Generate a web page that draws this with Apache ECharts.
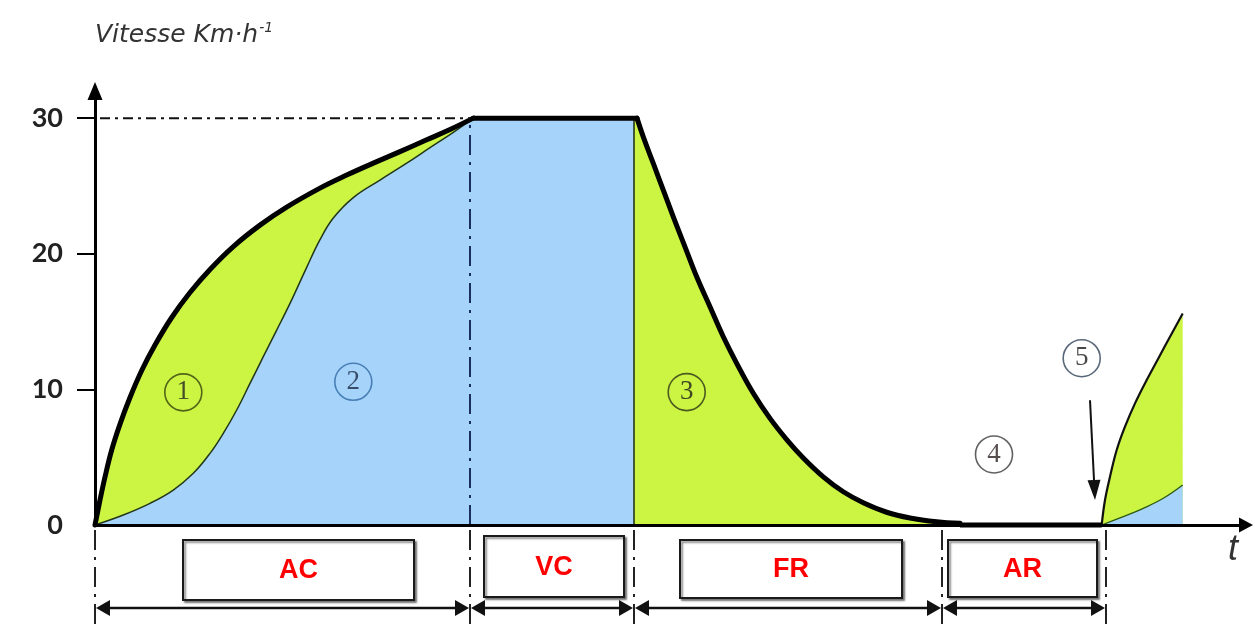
<!DOCTYPE html>
<html><head><meta charset="utf-8">
<script src="https://cdn.jsdelivr.net/npm/echarts@6/dist/echarts.min.js"></script>
<style>html,body{margin:0;padding:0;background:#fff}#c{width:1255px;height:630px}</style>
</head><body><div id="c"></div>
<script>
// ---------- data ----------
const yTicks = [0, 10, 20, 30];
const vMax = 30;
const phaseLabels = ['AC', 'VC', 'FR', 'AR'];
const phaseBounds = [0, 37.5, 53.9, 84.7, 101.1];
// (1) outer acceleration curve  [t, v]
const accelOuter = [[0,0],[0.5,1.84],[1.0,3.54],[1.67,5.53],[2.5,7.44],[3.5,9.4],[4.67,11.39],[6.0,13.27],[7.67,15.3],[9.5,17.14],[11.5,18.84],[13.83,20.53],[16.5,22.11],[19.17,23.44],[22.5,24.84],[25.17,25.8],[27.83,26.68],[30.5,27.53],[33.17,28.4],[35.5,29.16],[37.83,30]];
// (2) inner acceleration curve
const accelInner = [[0,0],[2.83,0.74],[5.5,1.6],[7.83,2.58],[9.83,3.81],[11.5,5.28],[12.83,6.76],[14.17,8.48],[15.5,10.44],[16.83,12.41],[18.17,14.37],[19.5,16.34],[21.17,19.0],[22.5,21.04],[23.83,22.63],[25.83,24.14],[28.5,25.43],[31.17,26.68],[33.5,27.82],[35.83,28.95],[37.83,30]];
// (3) braking curve
const brake = [[54.2,30],[54.83,28.62],[55.83,26.66],[56.83,24.69],[57.83,22.72],[59.0,20.51],[60.17,18.3],[61.5,16.09],[62.83,13.88],[64.17,11.92],[65.83,9.71],[67.5,7.86],[69.17,6.3],[70.83,4.94],[72.83,3.55],[74.83,2.45],[76.83,1.64],[79.17,0.94],[81.5,0.52],[84.17,0.24],[86.5,0.12]];
// (5) restart curves
const restartOuter = [[100.67,0],[101.0,1.84],[101.5,3.56],[102.17,5.53],[103.0,7.25],[104.0,8.97],[105.17,10.69],[106.33,12.28],[107.5,13.88],[108.77,15.6]];
const restartInner = [[100.67,0],[102.83,0.61],[104.83,1.23],[106.83,1.97],[108.77,2.95]];
// circled markers
const markerLabels = ['1', '2', '3', '4', '5'];
const markerT = [8.83, 25.83, 59.17, 89.9, 98.67];
const markerV = [9.78, 10.56, 9.8, 5.2, 12.3];
const restartArrow = [[99.5, 9.2], [99.95, 2.58]];

// ---------- styles / layout ----------
const GREEN = '#CCF443';
const BLUE = '#A6D3F9';
const markerStyle = [
  {ring: '#34400c', text: '#222'},
  {ring: '#2f6aa6', text: '#1b2a44'},
  {ring: '#2c3316', text: '#1a1a1a'},
  {ring: '#3a3a3a', text: '#2a1f1f'},
  {ring: '#2f4258', text: '#1a1a1a'}
];
const boxLayout = [
  {t0: 8.8, t1: 31.9, top: 15, bottom: 75},
  {t0: 38.9, t1: 52.9, top: 11, bottom: 72},
  {t0: 58.5, t1: 80.7, top: 15, bottom: 73},
  {t0: 85.3, t1: 100.2, top: 15, bottom: 72}
];
const SM = 0.4;

function lineS(data, opt) {
  return Object.assign({
    type: 'line', data: data, symbol: 'none', smooth: SM,
    silent: true, clip: false, animation: false
  }, opt);
}

const chart = echarts.init(document.getElementById('c'), null, {renderer: 'canvas'});
const series = [
  lineS(accelOuter, {z: 1, lineStyle: {width: 0}, areaStyle: {color: GREEN, opacity: 1}}),
  lineS(accelInner, {z: 2, lineStyle: {width: 1.5, color: '#22361a'}, areaStyle: {color: BLUE, opacity: 1}}),
  lineS([[phaseBounds[1], vMax], [phaseBounds[2], vMax]], {z: 2, smooth: false, lineStyle: {width: 0}, areaStyle: {color: BLUE, opacity: 1}}),
  lineS([[phaseBounds[2], vMax]].concat(brake), {z: 1, lineStyle: {width: 0}, areaStyle: {color: GREEN, opacity: 1}}),
  lineS([[phaseBounds[2], 0], [phaseBounds[2], vMax]], {z: 3, smooth: false, lineStyle: {width: 1.5, color: '#1d2b10'}}),
  lineS(restartOuter, {z: 1, lineStyle: {width: 0}, areaStyle: {color: GREEN, opacity: 1}}),
  lineS(restartInner, {z: 2, lineStyle: {width: 1.3, color: '#2c5a10'}, areaStyle: {color: BLUE, opacity: 1}}),
  lineS(restartOuter, {z: 4, lineStyle: {width: 2.2, color: '#111'}}),
  // bold outline
  lineS(accelOuter, {z: 4, lineStyle: {width: 5, color: '#000', cap: 'round', join: 'round'}}),
  lineS([accelOuter[accelOuter.length - 1], brake[0]], {z: 4, smooth: false, lineStyle: {width: 5, color: '#000', cap: 'round'}}),
  lineS(brake, {z: 4, lineStyle: {width: 5, color: '#000', cap: 'round', join: 'round'}}),
  lineS([[brake[brake.length - 1][0], 0], restartOuter[0]], {z: 4, smooth: false, lineStyle: {width: 5, color: '#000'}}),
  // dash-dot guides
  lineS([[0.5, vMax], [phaseBounds[1], vMax]], {z: 5, smooth: false, lineStyle: {width: 2, color: '#111', type: [10, 5, 3, 5]}}),
  lineS([[phaseBounds[1], 0], [phaseBounds[1], vMax]], {z: 5, smooth: false, lineStyle: {width: 2, color: '#1b2f5e', type: [20, 7, 3, 7]}}),
  // circled markers + arrow
  {
    type: 'scatter', silent: true, z: 6, animation: false, symbol: 'circle', symbolSize: 37,
    data: markerT.map((t, i) => ({
      value: [t, markerV[i]],
      itemStyle: {color: 'rgba(0,0,0,0)', borderColor: markerStyle[i].ring, borderWidth: 1.6},
      label: {color: markerStyle[i].text}
    })),
    label: {show: true, position: 'inside', fontFamily: 'Liberation Serif', fontSize: 27,
      formatter: p => markerLabels[p.dataIndex]},
    markLine: {
      silent: true, animation: false, symbol: ['none', 'triangle'], symbolSize: [13, 20],
      lineStyle: {color: '#111', width: 2, type: 'solid'}, label: {show: false},
      data: [[{coord: restartArrow[0]}, {coord: restartArrow[1]}]]
    }
  },
  // vertical dash-dot lines below axis
  {
    type: 'custom', silent: true, clip: false, z: 5, animation: false,
    data: phaseBounds.map(b => [b, 0]),
    renderItem: function (params, api) {
      const p = api.coord([api.value(0), 0]);
      return {type: 'line', shape: {x1: p[0], y1: p[1] + 5, x2: p[0], y2: p[1] + 106},
        style: {stroke: '#222', lineWidth: 2, lineDash: [20, 7, 3, 7]}};
    }
  },
  // phase boxes + double arrows
  {
    type: 'custom', silent: true, clip: false, z: 6, animation: false,
    data: phaseLabels.map((l, i) => [phaseBounds[i], phaseBounds[i + 1]]),
    renderItem: function (params, api) {
      const i = params.dataIndex;
      const L = boxLayout[i];
      const base = api.coord([0, 0])[1];
      const xa = api.coord([api.value(0), 0])[0];
      const xb = api.coord([api.value(1), 0])[0];
      const bx0 = api.coord([L.t0, 0])[0], bx1 = api.coord([L.t1, 0])[0];
      const by0 = base + L.top, by1 = base + L.bottom;
      const ay = base + 83, ah = 15, aw = 8;
      return {type: 'group', children: [
        {type: 'rect', shape: {x: bx0, y: by0, width: bx1 - bx0, height: by1 - by0},
          style: {fill: '#fff', stroke: '#1a1a1a', lineWidth: 2, shadowColor: 'rgba(0,0,0,0.45)', shadowOffsetX: 2, shadowOffsetY: 2, shadowBlur: 2}},
        {type: 'text', style: {text: phaseLabels[i], x: (bx0 + bx1) / 2, y: (by0 + by1) / 2 + 1,
          align: 'center', verticalAlign: 'middle', fill: '#FF0000',
          font: 'bold 27px "Liberation Sans", Arial, sans-serif'}},
        {type: 'line', shape: {x1: xa + ah - 2, y1: ay, x2: xb - ah + 2, y2: ay}, style: {stroke: '#111', lineWidth: 2.5}},
        {type: 'polygon', shape: {points: [[xa + 1, ay], [xa + ah, ay - aw], [xa + ah, ay + aw]]}, style: {fill: '#111'}},
        {type: 'polygon', shape: {points: [[xb - 1, ay], [xb - ah, ay - aw], [xb - ah, ay + aw]]}, style: {fill: '#111'}}
      ]};
    }
  }
];

chart.setOption({
  animation: false,
  backgroundColor: '#fff',
  title: [
    {text: '{a|Vitesse Km·h}{b|-1}', left: 95, top: 21, padding: 0,
      textStyle: {fontWeight: 'normal', rich: {
        a: {fontFamily: 'DejaVu Sans', fontStyle: 'italic', fontWeight: 'normal', fontSize: 25, color: '#333'},
        b: {fontFamily: 'DejaVu Sans', fontStyle: 'italic', fontWeight: 'normal', fontSize: 14, color: '#333', padding: [0, 0, 15, 1]}
      }}},
    {text: 't', left: 1228, top: 532, padding: 0,
      textStyle: {fontFamily: 'Liberation Sans', fontStyle: 'italic', fontWeight: 'normal', fontSize: 36, color: '#333'}}
  ],
  grid: {left: 95, right: 9, top: 91, bottom: 105, containLabel: false, outerBoundsMode: 'none'},
  xAxis: {
    type: 'value', min: 0, max: 115.1, z: 10,
    axisLine: {show: true, onZero: true, lineStyle: {color: '#000', width: 3}, symbol: ['none', 'triangle'], symbolSize: [15, 14]},
    axisTick: {show: false}, axisLabel: {show: false}, splitLine: {show: false}
  },
  yAxis: {
    type: 'value', min: 0, max: 32, z: 10,
    axisLine: {show: true, lineStyle: {color: '#000', width: 3}, symbol: ['none', 'triangle'], symbolSize: [15, 18]},
    axisTick: {show: true, inside: false, length: 18, lineStyle: {color: '#000', width: 2}, customValues: yTicks.filter(v => v > 0)},
    axisLabel: {show: true, customValues: yTicks, margin: 32, fontFamily: 'Lato', fontWeight: 'bold', fontSize: 27, color: '#222'},
    splitLine: {show: false}
  },
  series: series
});
</script>
</body></html>
